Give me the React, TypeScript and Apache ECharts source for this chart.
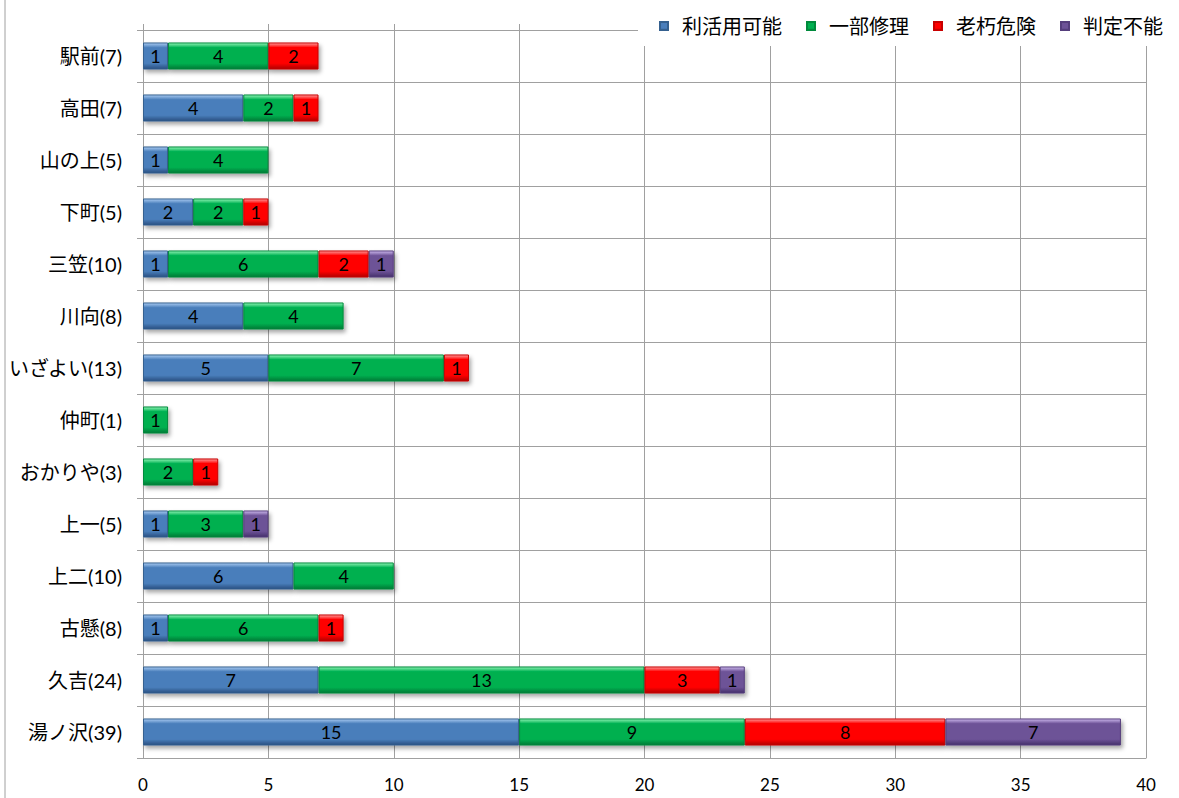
import React, { useEffect, useRef } from "react";
import * as echarts from "echarts";

// 地区名（件数）
const districts = [
  "駅前(7)",
  "高田(7)",
  "山の上(5)",
  "下町(5)",
  "三笠(10)",
  "川向(8)",
  "いざよい(13)",
  "仲町(1)",
  "おかりや(3)",
  "上一(5)",
  "上二(10)",
  "古懸(8)",
  "久吉(24)",
  "湯ノ沢(39)",
];

const seriesNames = ["利活用可能", "一部修理", "老朽危険", "判定不能"];

const usable = [1, 4, 1, 2, 1, 4, 5, null, null, 1, 6, 1, 7, 15];
const partialRepair = [4, 2, 4, 2, 6, 4, 7, 1, 2, 3, 4, 6, 13, 9];
const dilapidated = [2, 1, null, 1, 2, null, 1, null, 1, null, null, 1, 3, 8];
const undetermined = [null, null, null, null, 1, null, null, null, null, 1, null, null, 1, 7];

const valueTicks = { min: 0, max: 40, interval: 5 };

// bevel-like fills: light top edge, base body, dark bottom edge
const palettes = [
  { top: "#a9cbf2", base: "#4a7ebb", bottom: "#284f80", border: "#35608f" },
  { top: "#8ff5b5", base: "#00b050", bottom: "#007a35", border: "#008a3c" },
  { top: "#ff9a9a", base: "#ff0000", bottom: "#b00000", border: "#c80000" },
  { top: "#cdb9ee", base: "#6d5297", bottom: "#44306a", border: "#553e7c" },
];

const FONT = "Lato, 'Noto Sans CJK JP', sans-serif";
const GRID_COLOR = "#a0a0a0";

function bevel(p: typeof palettes[number]) {
  return new echarts.graphic.LinearGradient(0, 0, 0, 1, [
    { offset: 0, color: p.top },
    { offset: 0.18, color: p.base },
    { offset: 0.78, color: p.base },
    { offset: 1, color: p.bottom },
  ]);
}

export default function App() {
  const ref = useRef<HTMLDivElement>(null);

  useEffect(() => {
    if (!ref.current) return;
    const chart = echarts.init(ref.current, null, { renderer: "svg" });
    const values = [usable, partialRepair, dilapidated, undetermined];

    chart.setOption({
      animation: false,
      backgroundColor: "#ffffff",
      textStyle: { fontFamily: FONT },
      grid: { left: 143, right: 33, top: 30, bottom: 40, containLabel: false },
      legend: {
        data: seriesNames,
        right: 11,
        top: 11,
        z: 20,
        itemWidth: 8,
        itemHeight: 8,
        itemGap: 24,
        icon: "rect",
        textStyle: {
          fontFamily: FONT,
          fontSize: 20,
          color: "#000",
          padding: [0, 0, 0, 9],
        },
      },
      graphic: [
        {
          type: "rect",
          z: 10,
          shape: { x: 638, y: 0, width: 541, height: 46 },
          style: { fill: "#ffffff" },
          silent: true,
        },
        {
          type: "line",
          z: 10,
          shape: { x1: 5, y1: 0, x2: 5, y2: 798 },
          style: { stroke: GRID_COLOR, lineWidth: 1 },
          silent: true,
        },
      ],
      xAxis: [
        {
          type: "value",
          position: "bottom",
          ...valueTicks,
          axisLine: { show: true, lineStyle: { color: GRID_COLOR } },
          axisTick: { show: false },
          splitLine: { show: true, lineStyle: { color: GRID_COLOR, width: 1 } },
          axisLabel: {
            fontFamily: FONT,
            fontSize: 17,
            color: "#000",
            margin: 18,
          },
        },
        {
          type: "value",
          position: "top",
          ...valueTicks,
          axisLine: { show: true, lineStyle: { color: GRID_COLOR } },
          axisTick: { show: true, length: 6, lineStyle: { color: GRID_COLOR } },
          splitLine: { show: false },
          axisLabel: { show: false },
        },
      ],
      yAxis: {
        type: "category",
        inverse: true,
        data: districts,
        axisLine: { show: true, lineStyle: { color: GRID_COLOR } },
        axisTick: { show: true, length: 6, lineStyle: { color: GRID_COLOR } },
        splitLine: { show: true, lineStyle: { color: GRID_COLOR, width: 1 } },
        axisLabel: {
          fontFamily: FONT,
          fontSize: 20,
          color: "#000",
          margin: 21,
        },
      },
      series: seriesNames.map((name, i) => ({
        name,
        type: "bar",
        stack: "total",
        xAxisIndex: 0,
        barWidth: "52%",
        data: values[i],
        itemStyle: {
          color: bevel(palettes[i]),
          borderColor: palettes[i].border,
          borderWidth: 1,
          shadowColor: "rgba(0,0,0,0.35)",
          shadowBlur: 4,
          shadowOffsetX: 2,
          shadowOffsetY: 3,
        },
        label: {
          show: true,
          position: "inside",
          fontFamily: FONT,
          fontSize: 18,
          color: "#000",
        },
      })),
    });

    return () => chart.dispose();
  }, []);

  return (
    <div
      ref={ref}
      style={{ position: "absolute", left: 0, top: 0, width: 1179, height: 798 }}
    />
  );
}
